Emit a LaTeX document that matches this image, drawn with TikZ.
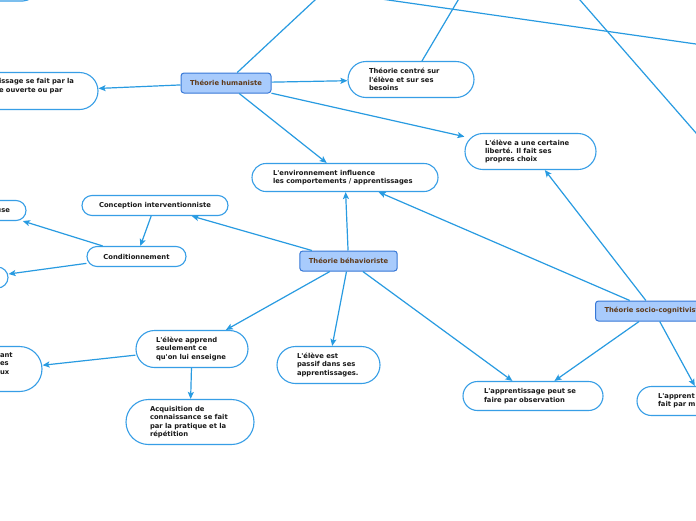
\documentclass[tikz,border=0pt]{standalone}
\usepackage{fontspec}
\setmainfont{DejaVu Sans}
\usetikzlibrary{arrows.meta}
\definecolor{lnk}{RGB}{40,155,225}
\definecolor{pillb}{RGB}{55,158,230}
\definecolor{mainf}{RGB}{168,203,252}
\definecolor{maind}{RGB}{55,120,215}
\definecolor{maint}{RGB}{95,58,25}
\definecolor{txt}{RGB}{25,25,25}
\newcommand{\apo}{\textquotesingle}
\tikzset{
  pill/.style={draw=pillb, line width=1.1pt, fill=white, rounded corners=#1,
    inner sep=0pt, font=\fontsize{6.8}{8.4}\selectfont\bfseries, text=txt, align=left},
  pill/.default=10pt,
  mainbox/.style={draw=maind, fill=mainf, line width=1pt, rounded corners=3pt,
    minimum height=20pt, inner xsep=9pt, inner ysep=0pt,
    font=\fontsize{6.8}{8.4}\selectfont\bfseries, text=maint},
  link/.style={draw=lnk, line width=1.2pt},
  arr/.style={link, -{Stealth[length=7pt,width=6pt,inset=1.5pt]}},
}
\begin{document}
\begin{tikzpicture}[x=1pt,y=-1pt]
\useasboundingbox (0,0) rectangle (696,520);
\clip (0,0) rectangle (696,520);
\fill[white] (0,0) rectangle (696,520);

% off-canvas ends
\coordinate (offH) at (404,-83);
\coordinate (offN3) at (505,-79);
\coordinate (offA) at (288,-14.3);
\coordinate (offB) at (796,58.3);
\coordinate (offC) at (530,-57.3);
\coordinate (offD) at (746,190.3);

% main nodes
\node[mainbox, minimum width=90pt] (hum) at (226,83) {Théorie humaniste};
\node[mainbox, minimum width=97pt] (beh) at (348.5,261) {Théorie béhavioriste};
\node[mainbox, anchor=west] (soc) at (595,311) {Théorie socio-cognitiviste};

% pill nodes
\node[pill=12pt, minimum width=90pt, minimum height=24pt] (n0) at (-10,-11) {};
\node[pill=18.5pt, minimum width=120pt, minimum height=37pt, text width=78pt] (n2) at (38,91)
  {\mbox{issage se fait par la}\\\mbox{e ouverte ou par}\\\strut};
\node[pill=18pt, minimum width=126pt, minimum height=36pt, text width=84pt] (n3) at (411,79.5)
  {\mbox{Théorie centré sur}\\\mbox{l\apo élève et sur ses}\\besoins};
\node[pill=18pt, minimum width=131pt, minimum height=36pt, text width=91pt] (n4) at (530.5,151.5)
  {\mbox{L\apo élève a une certaine}\\\mbox{liberté. Il fait ses}\\\mbox{propres choix}};
\node[pill=14pt, minimum width=186pt, minimum height=28pt, text width=144pt] (n5) at (345,177.5)
  {\mbox{L\apo environnement influence}\\\mbox{les comportements / apprentissages}};
\node[pill=10pt, minimum width=146pt, minimum height=20pt, align=center] (n6) at (155,205.5)
  {Conception interventionniste};
\node[pill=10pt, minimum width=74pt, minimum height=20pt, text width=42pt, align=right] (n7) at (-11,210.5)
  {use};
\node[pill=10pt, minimum width=99pt, minimum height=20pt, align=center] (n8) at (136.5,256.5)
  {Conditionnement};
\node[pill=10.5pt, minimum width=50pt, minimum height=21pt] (n9) at (-17,277.5) {};
\node[pill=18.5pt, minimum width=112pt, minimum height=37pt, text width=72pt] (n11) at (192,349)
  {\mbox{L\apo élève apprend}\\\mbox{seulement ce}\\\mbox{qu\apo on lui enseigne}};
\node[pill=22.5pt, minimum width=68pt, minimum height=45pt, text width=16pt] (n12) at (8,369)
  {\mbox{ant}\\\mbox{es}\\\mbox{ux}\\\strut};
\node[pill=22.5pt, minimum width=128pt, minimum height=45pt, text width=80pt] (n13) at (190,422)
  {\mbox{Acquisition de}\\\mbox{connaissance se fait}\\\mbox{par la pratique et la}\\répétition};
\node[pill=18.5pt, minimum width=103pt, minimum height=37pt, text width=63pt] (n14) at (328.5,365)
  {\mbox{L\apo élève est}\\\mbox{passif dans ses}\\\mbox{apprentissages.}};
\node[pill=14.5pt, minimum width=140pt, minimum height=29pt, text width=98pt] (n15) at (533,396)
  {\mbox{L\apo apprentissage peut se}\\\mbox{faire par observation}};
\node[pill=14.5pt, minimum width=132pt, minimum height=29pt, text width=90pt] (n17) at (703,401)
  {\mbox{L\apo apprent}\\\mbox{fait par m}};

% connectors
\draw[link] (hum) -- (offH);
\draw[arr] (hum) -- (n2);
\draw[arr] (hum) -- (n3);
\draw[arr] (hum) -- (n4);
\draw[arr] (hum) -- (n5);
\draw[link] (n3) -- (offN3);
\draw[link] (offA) -- (offB);
\draw[link] (offC) -- (offD);
\draw[arr] (beh) -- (n5);
\draw[arr] (beh) -- (n6);
\draw[arr] (n6) -- (n8);
\draw[arr] (n8) -- (n7);
\draw[arr] (n8) -- (n9);
\draw[arr] (beh) -- (n11);
\draw[arr] (beh) -- (n14);
\draw[arr] (beh) -- (n15);
\draw[arr] (n11) -- (n12);
\draw[arr] (n11) -- (n13);
\draw[arr] (soc) -- (n5);
\draw[arr] (soc) -- (n4);
\draw[arr] (soc) -- (n15);
\draw[arr] (soc) -- (n17);
\end{tikzpicture}
\end{document}
